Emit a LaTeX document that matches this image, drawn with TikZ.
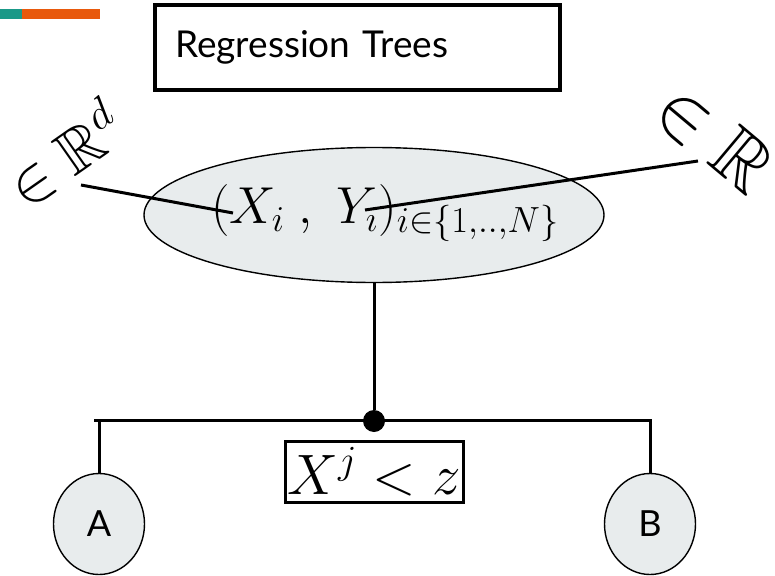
\RequirePackage{fix-cm}
\documentclass[tikz,border=0pt]{standalone}
\usepackage{amsmath,amssymb}
\usepackage{fontspec}
\setmainfont{Lato}
\usetikzlibrary{positioning,calc,shapes.geometric}
\definecolor{tealbar}{HTML}{1A9988}
\definecolor{orangebar}{HTML}{E8590C}
\definecolor{nodegrey}{HTML}{E8ECED}
\tikzset{
  titlebox/.style = {draw, line width=4pt, align=left, inner xsep=20pt, text width=365pt,
                     minimum height=85pt, font=\fontsize{37}{40}\selectfont},
  sample/.style   = {ellipse, draw, line width=1.4pt, fill=nodegrey, minimum width=460pt,
                     minimum height=135pt, inner sep=0pt},
  leaf/.style     = {ellipse, draw, line width=1.4pt, fill=nodegrey, minimum width=91pt,
                     minimum height=101pt, inner sep=0pt, font=\fontsize{36}{40}\selectfont},
  split/.style    = {draw, line width=3pt, minimum width=178pt, minimum height=61pt, inner sep=0pt,
                     font=\fontsize{57}{60}\selectfont},
  fork/.style     = {circle, fill=black, minimum size=22pt, inner sep=0pt},
  link/.style     = {line width=3pt},
  space/.style    = {inner sep=0pt},
}

\begin{document}
\begin{tikzpicture}[x=1pt, y=-1pt]
  \useasboundingbox (0,0) rectangle (775,575);
  % header bar
  \fill[tealbar] (0,9) rectangle (22,19);
  \fill[orangebar] (22,9) rectangle (100,19);
  \node[titlebox] (title) at (357.5,47.5) {Regression Trees};

  % the sample
  \node[sample] (data) at (374,215) {};
  \node[space, font=\fontsize{52}{54}\selectfont] (pair) at (385,213)
    {$(X_i\;,\;Y_i)_{i\in\{1,..,N\}}$};
  \node[space, rotate=35, font=\fontsize{62}{64}\selectfont] (xspace) at (64,154) {$\in\mathbb{R}^d$};
  \node[space, rotate=-40, font=\fontsize{76}{78}\selectfont] (yspace) at (715,138) {$\in\mathbb{R}$};
  \coordinate (xfoot) at (81,185);
  \coordinate (yfoot) at (698,161);
  \coordinate (xin) at (233,213);
  \coordinate (yin) at (365,210);
  \draw[link] (xfoot) -- (xin);
  \draw[link] (yin) -- (yfoot);

  % split
  \node[fork] (knot) at (374,421) {};
  \draw[link] (data.south) -- (knot);
  \node[split] (rule) at (374,472) {$X^j<z$};
  \node[leaf] (A) at (99,524) {A};
  \node[leaf] (B) at (650,524) {B};
  \coordinate (lend) at (94,420);
  \coordinate (rend) at (652,420);
  \draw[link] (lend) -- (rend);
  \draw[link] (A.north) -- (A.north |- knot);
  \draw[link] (B.north) -- (B.north |- knot);
\end{tikzpicture}
\end{document}
